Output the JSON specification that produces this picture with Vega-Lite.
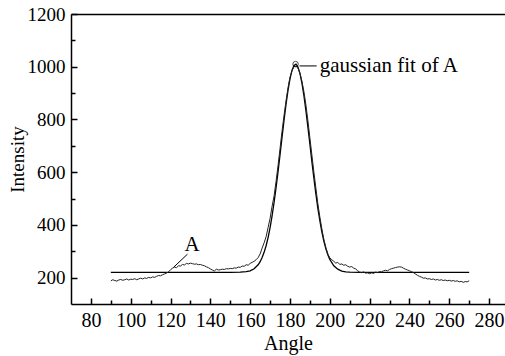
{
  "$schema": "https://vega.github.io/schema/vega-lite/v6.json",
  "width": 434,
  "height": 290,
  "autosize": {"type": "none"},
  "padding": {"left": 71, "top": 14, "right": 0, "bottom": 52},
  "background": "white",
  "config": {
    "view": {"stroke": null},
    "font": "Liberation Serif",
    "axis": {
      "domainColor": "black",
      "domainWidth": 1.5,
      "tickColor": "black",
      "tickWidth": 1.5,
      "labelFont": "Liberation Serif",
      "labelFontSize": 19,
      "labelColor": "black",
      "titleFont": "Liberation Serif",
      "titleFontSize": 19,
      "titleFontWeight": "normal",
      "titleColor": "black",
      "grid": false
    }
  },
  "datasets": {
    "measured": [
      {"Angle": 90, "Intensity": 188}, {"Angle": 91, "Intensity": 192}, {"Angle": 92, "Intensity": 189}, {"Angle": 93, "Intensity": 187}, {"Angle": 94, "Intensity": 191},
      {"Angle": 95, "Intensity": 193}, {"Angle": 96, "Intensity": 190}, {"Angle": 97, "Intensity": 192}, {"Angle": 98, "Intensity": 195}, {"Angle": 99, "Intensity": 191},
      {"Angle": 100, "Intensity": 194}, {"Angle": 101, "Intensity": 193}, {"Angle": 102, "Intensity": 196}, {"Angle": 103, "Intensity": 192}, {"Angle": 104, "Intensity": 195},
      {"Angle": 105, "Intensity": 198}, {"Angle": 106, "Intensity": 195}, {"Angle": 107, "Intensity": 199}, {"Angle": 108, "Intensity": 197}, {"Angle": 109, "Intensity": 201},
      {"Angle": 110, "Intensity": 199}, {"Angle": 111, "Intensity": 203}, {"Angle": 112, "Intensity": 201}, {"Angle": 113, "Intensity": 205}, {"Angle": 114, "Intensity": 208},
      {"Angle": 115, "Intensity": 207}, {"Angle": 116, "Intensity": 211}, {"Angle": 117, "Intensity": 214}, {"Angle": 118, "Intensity": 217}, {"Angle": 119, "Intensity": 222},
      {"Angle": 120, "Intensity": 230}, {"Angle": 121, "Intensity": 236}, {"Angle": 122, "Intensity": 240}, {"Angle": 123, "Intensity": 238}, {"Angle": 124, "Intensity": 245},
      {"Angle": 125, "Intensity": 244}, {"Angle": 126, "Intensity": 250}, {"Angle": 127, "Intensity": 248}, {"Angle": 128, "Intensity": 254}, {"Angle": 129, "Intensity": 252},
      {"Angle": 130, "Intensity": 255}, {"Angle": 131, "Intensity": 253}, {"Angle": 132, "Intensity": 251}, {"Angle": 133, "Intensity": 252}, {"Angle": 134, "Intensity": 249},
      {"Angle": 135, "Intensity": 250}, {"Angle": 136, "Intensity": 247}, {"Angle": 137, "Intensity": 245}, {"Angle": 138, "Intensity": 241}, {"Angle": 139, "Intensity": 238},
      {"Angle": 140, "Intensity": 233}, {"Angle": 141, "Intensity": 229}, {"Angle": 142, "Intensity": 225}, {"Angle": 143, "Intensity": 232}, {"Angle": 144, "Intensity": 229},
      {"Angle": 145, "Intensity": 230}, {"Angle": 146, "Intensity": 232}, {"Angle": 147, "Intensity": 231}, {"Angle": 148, "Intensity": 234}, {"Angle": 149, "Intensity": 233},
      {"Angle": 150, "Intensity": 235}, {"Angle": 151, "Intensity": 234}, {"Angle": 152, "Intensity": 237}, {"Angle": 153, "Intensity": 236}, {"Angle": 154, "Intensity": 240},
      {"Angle": 155, "Intensity": 239}, {"Angle": 156, "Intensity": 244}, {"Angle": 157, "Intensity": 243}, {"Angle": 158, "Intensity": 249}, {"Angle": 159, "Intensity": 247},
      {"Angle": 160, "Intensity": 254}, {"Angle": 161, "Intensity": 258}, {"Angle": 162, "Intensity": 262}, {"Angle": 163, "Intensity": 268}, {"Angle": 164, "Intensity": 276},
      {"Angle": 165, "Intensity": 290}, {"Angle": 166, "Intensity": 312}, {"Angle": 167, "Intensity": 332}, {"Angle": 168, "Intensity": 355}, {"Angle": 169, "Intensity": 390},
      {"Angle": 170, "Intensity": 425}, {"Angle": 171, "Intensity": 470}, {"Angle": 172, "Intensity": 510}, {"Angle": 173, "Intensity": 565}, {"Angle": 174, "Intensity": 625},
      {"Angle": 175, "Intensity": 690}, {"Angle": 176, "Intensity": 755}, {"Angle": 177, "Intensity": 815}, {"Angle": 178, "Intensity": 870}, {"Angle": 179, "Intensity": 920},
      {"Angle": 180, "Intensity": 960}, {"Angle": 181, "Intensity": 985}, {"Angle": 182, "Intensity": 1000}, {"Angle": 183, "Intensity": 1002}, {"Angle": 184, "Intensity": 995},
      {"Angle": 185, "Intensity": 975}, {"Angle": 186, "Intensity": 945}, {"Angle": 187, "Intensity": 905}, {"Angle": 188, "Intensity": 855}, {"Angle": 189, "Intensity": 795},
      {"Angle": 190, "Intensity": 730}, {"Angle": 191, "Intensity": 665}, {"Angle": 192, "Intensity": 600}, {"Angle": 193, "Intensity": 540}, {"Angle": 194, "Intensity": 480},
      {"Angle": 195, "Intensity": 430}, {"Angle": 196, "Intensity": 385}, {"Angle": 197, "Intensity": 345}, {"Angle": 198, "Intensity": 315}, {"Angle": 199, "Intensity": 290},
      {"Angle": 200, "Intensity": 275}, {"Angle": 201, "Intensity": 268}, {"Angle": 202, "Intensity": 262}, {"Angle": 203, "Intensity": 255}, {"Angle": 204, "Intensity": 258},
      {"Angle": 205, "Intensity": 250}, {"Angle": 206, "Intensity": 252}, {"Angle": 207, "Intensity": 247}, {"Angle": 208, "Intensity": 249}, {"Angle": 209, "Intensity": 243},
      {"Angle": 210, "Intensity": 240}, {"Angle": 211, "Intensity": 242}, {"Angle": 212, "Intensity": 236}, {"Angle": 213, "Intensity": 233}, {"Angle": 214, "Intensity": 226},
      {"Angle": 215, "Intensity": 221}, {"Angle": 216, "Intensity": 219}, {"Angle": 217, "Intensity": 222}, {"Angle": 218, "Intensity": 217}, {"Angle": 219, "Intensity": 218},
      {"Angle": 220, "Intensity": 215}, {"Angle": 221, "Intensity": 218}, {"Angle": 222, "Intensity": 216}, {"Angle": 223, "Intensity": 221}, {"Angle": 224, "Intensity": 219},
      {"Angle": 225, "Intensity": 223}, {"Angle": 226, "Intensity": 222}, {"Angle": 227, "Intensity": 226}, {"Angle": 228, "Intensity": 228}, {"Angle": 229, "Intensity": 226},
      {"Angle": 230, "Intensity": 231}, {"Angle": 231, "Intensity": 234}, {"Angle": 232, "Intensity": 236}, {"Angle": 233, "Intensity": 238}, {"Angle": 234, "Intensity": 240},
      {"Angle": 235, "Intensity": 241}, {"Angle": 236, "Intensity": 240}, {"Angle": 237, "Intensity": 236}, {"Angle": 238, "Intensity": 232}, {"Angle": 239, "Intensity": 229},
      {"Angle": 240, "Intensity": 226}, {"Angle": 241, "Intensity": 223}, {"Angle": 242, "Intensity": 219}, {"Angle": 243, "Intensity": 214}, {"Angle": 244, "Intensity": 209},
      {"Angle": 245, "Intensity": 205}, {"Angle": 246, "Intensity": 202}, {"Angle": 247, "Intensity": 198}, {"Angle": 248, "Intensity": 199}, {"Angle": 249, "Intensity": 195},
      {"Angle": 250, "Intensity": 196}, {"Angle": 251, "Intensity": 193}, {"Angle": 252, "Intensity": 195}, {"Angle": 253, "Intensity": 191}, {"Angle": 254, "Intensity": 193},
      {"Angle": 255, "Intensity": 190}, {"Angle": 256, "Intensity": 192}, {"Angle": 257, "Intensity": 189}, {"Angle": 258, "Intensity": 191}, {"Angle": 259, "Intensity": 188},
      {"Angle": 260, "Intensity": 190}, {"Angle": 261, "Intensity": 187}, {"Angle": 262, "Intensity": 189}, {"Angle": 263, "Intensity": 186}, {"Angle": 264, "Intensity": 188},
      {"Angle": 265, "Intensity": 184}, {"Angle": 266, "Intensity": 186}, {"Angle": 267, "Intensity": 182}, {"Angle": 268, "Intensity": 185}, {"Angle": 269, "Intensity": 184},
      {"Angle": 270, "Intensity": 188}
    ],
    "fit": [
      {"Angle": 90, "Intensity": 220}, {"Angle": 140, "Intensity": 220}, {"Angle": 150, "Intensity": 220}, {"Angle": 155, "Intensity": 220.6},
      {"Angle": 158, "Intensity": 222.4}, {"Angle": 160, "Intensity": 226}, {"Angle": 162, "Intensity": 233.6}, {"Angle": 164, "Intensity": 248.7},
      {"Angle": 165, "Intensity": 260.4}, {"Angle": 166, "Intensity": 276}, {"Angle": 167, "Intensity": 296}, {"Angle": 168, "Intensity": 321},
      {"Angle": 169, "Intensity": 352}, {"Angle": 170, "Intensity": 390}, {"Angle": 171, "Intensity": 434}, {"Angle": 172, "Intensity": 485},
      {"Angle": 173, "Intensity": 541}, {"Angle": 174, "Intensity": 602}, {"Angle": 175, "Intensity": 666}, {"Angle": 176, "Intensity": 732},
      {"Angle": 177, "Intensity": 796}, {"Angle": 178, "Intensity": 857}, {"Angle": 179, "Intensity": 910}, {"Angle": 180, "Intensity": 954},
      {"Angle": 181, "Intensity": 986}, {"Angle": 182, "Intensity": 1005}, {"Angle": 183, "Intensity": 1010}, {"Angle": 184, "Intensity": 999},
      {"Angle": 185, "Intensity": 975}, {"Angle": 186, "Intensity": 938}, {"Angle": 187, "Intensity": 890}, {"Angle": 188, "Intensity": 833},
      {"Angle": 189, "Intensity": 771}, {"Angle": 190, "Intensity": 706}, {"Angle": 191, "Intensity": 640}, {"Angle": 192, "Intensity": 577},
      {"Angle": 193, "Intensity": 518}, {"Angle": 194, "Intensity": 463}, {"Angle": 195, "Intensity": 416}, {"Angle": 196, "Intensity": 374},
      {"Angle": 197, "Intensity": 339}, {"Angle": 198, "Intensity": 310}, {"Angle": 199, "Intensity": 287}, {"Angle": 200, "Intensity": 269},
      {"Angle": 202, "Intensity": 245}, {"Angle": 204, "Intensity": 232}, {"Angle": 206, "Intensity": 225}, {"Angle": 208, "Intensity": 222},
      {"Angle": 210, "Intensity": 221}, {"Angle": 215, "Intensity": 220}, {"Angle": 270, "Intensity": 220}
    ],
    "leaders": [
      {"Angle": 184.8, "Angle2": 193.4, "Intensity": 1003, "Intensity2": 1003},
      {"Angle": 128.5, "Angle2": 121.5, "Intensity": 289, "Intensity2": 239}
    ],
    "peak": [{"Angle": 182.8, "Intensity": 1010}],
    "labels": [
      {"Angle": 194.9, "Intensity": 1003, "label": "gaussian fit of A"},
      {"Angle": 127, "Intensity": 322, "label": "A"}
    ]
  },
  "resolve": {"axis": {"x": "independent", "y": "independent"}},
  "layer": [
    {
      "data": {"name": "fit"},
      "mark": {"type": "line", "color": "black", "strokeWidth": 1.3, "clip": true},
      "encoding": {
        "x": {"field": "Angle", "type": "quantitative",
          "scale": {"domain": [70, 288], "nice": false, "zero": false},
          "axis": {"orient": "bottom", "values": [80, 100, 120, 140, 160, 180, 200, 220, 240, 260, 280], "format": "d", "tickSize": -6, "labelPadding": 12, "labelFontSize": 20, "title": "Angle", "titlePadding": 3, "titleFontSize": 20}},
        "y": {"field": "Intensity", "type": "quantitative",
          "scale": {"domain": [100, 1200], "nice": false, "zero": false},
          "axis": {"orient": "left", "values": [200, 400, 600, 800, 1000, 1200], "format": "d", "tickSize": -6, "labelPadding": 12, "title": "Intensity", "titlePadding": 0}}
      }
    },
    {
      "data": {"name": "measured"},
      "mark": {"type": "line", "color": "#222222", "strokeWidth": 1, "clip": true},
      "encoding": {
        "x": {"field": "Angle", "type": "quantitative",
          "scale": {"domain": [70, 288], "nice": false, "zero": false},
          "axis": {"orient": "bottom", "values": [90, 110, 130, 150, 170, 190, 210, 230, 250, 270], "tickSize": -4, "labels": false, "domain": false, "title": null}},
        "y": {"field": "Intensity", "type": "quantitative",
          "scale": {"domain": [100, 1200], "nice": false, "zero": false},
          "axis": {"orient": "left", "values": [300, 500, 700, 900, 1100], "tickSize": -4, "labels": false, "domain": false, "title": null}}
      }
    },
    {
      "data": {"name": "leaders"},
      "mark": {"type": "rule", "color": "black", "strokeWidth": 1},
      "encoding": {
        "x": {"field": "Angle", "type": "quantitative",
          "scale": {"domain": [70, 288], "nice": false, "zero": false},
          "axis": {"orient": "top", "ticks": false, "labels": false, "domain": true, "title": null}},
        "x2": {"field": "Angle2"},
        "y": {"field": "Intensity", "type": "quantitative",
          "scale": {"domain": [100, 1200], "nice": false, "zero": false}, "axis": null},
        "y2": {"field": "Intensity2"}
      }
    },
    {
      "data": {"name": "peak"},
      "mark": {"type": "point", "shape": "circle", "filled": false, "color": "black", "size": 30, "strokeWidth": 1},
      "encoding": {
        "x": {"field": "Angle", "type": "quantitative", "scale": {"domain": [70, 288], "nice": false, "zero": false}, "axis": null},
        "y": {"field": "Intensity", "type": "quantitative", "scale": {"domain": [100, 1200], "nice": false, "zero": false}, "axis": null}
      }
    },
    {
      "data": {"name": "labels"},
      "mark": {"type": "text", "align": "left", "baseline": "middle", "font": "Liberation Serif", "fontSize": 21, "color": "black"},
      "encoding": {
        "x": {"field": "Angle", "type": "quantitative", "scale": {"domain": [70, 288], "nice": false, "zero": false}, "axis": null},
        "y": {"field": "Intensity", "type": "quantitative", "scale": {"domain": [100, 1200], "nice": false, "zero": false}, "axis": null},
        "text": {"field": "label", "type": "nominal"}
      }
    }
  ]
}
